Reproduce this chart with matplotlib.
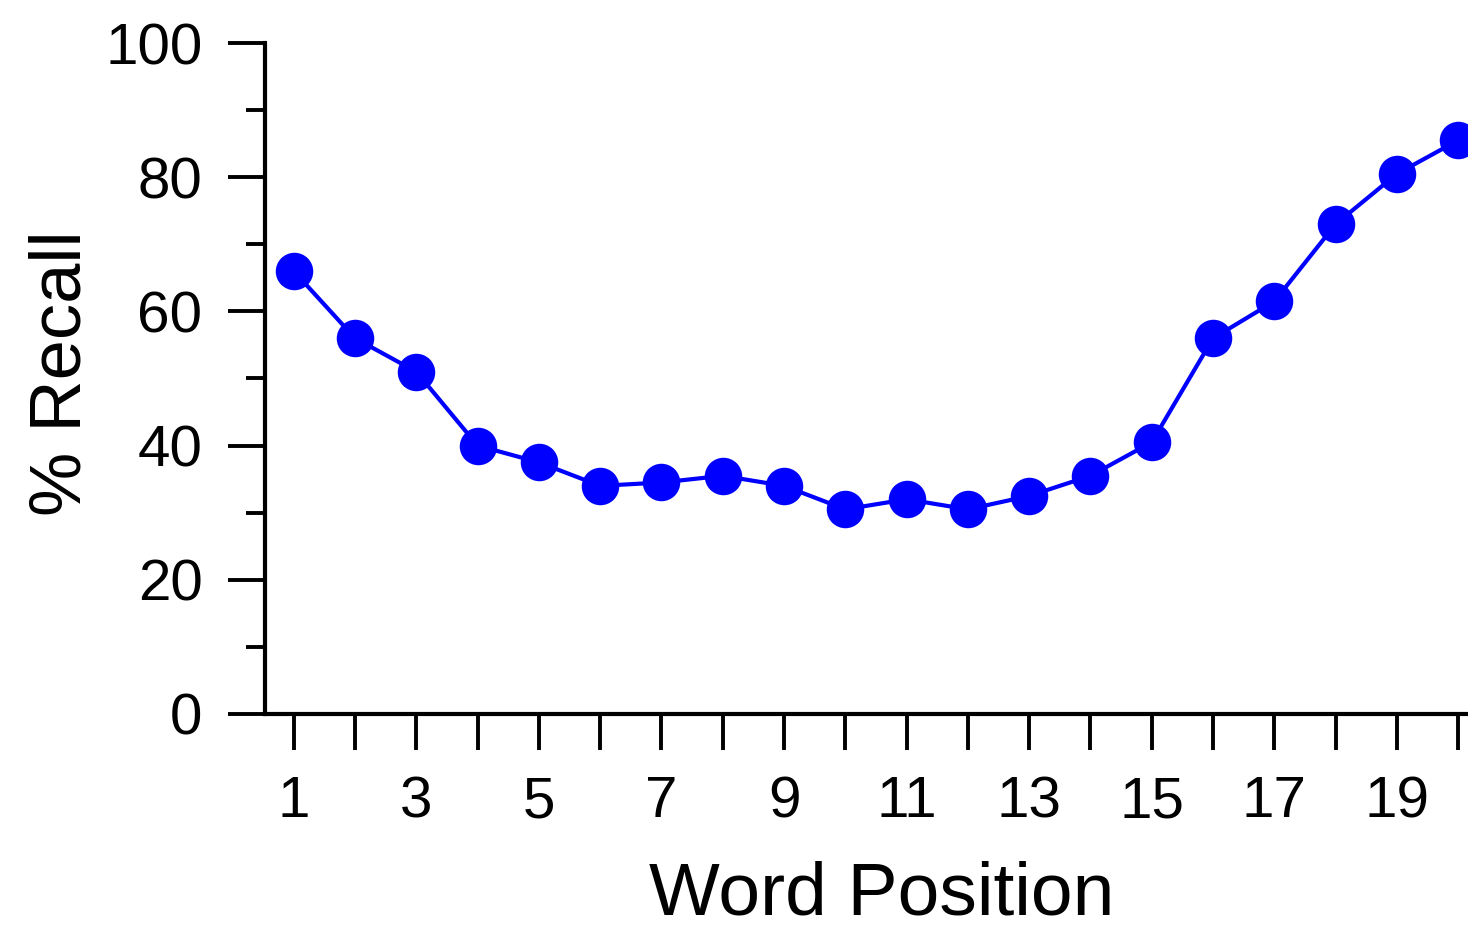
import matplotlib.pyplot as plt
from matplotlib.ticker import MultipleLocator

# Serial position data

positions = list(range(1, 21))
recall = [66, 56, 51, 40, 37.5, 34, 34.5, 35.5, 34, 30.5,
          32, 30.5, 32.5, 35.5, 40.5, 56, 61.5, 73, 80.5, 85.5]
xtick_labels = [str(p) if p % 2 == 1 else "" for p in positions]
yticks = [0, 20, 40, 60, 80, 100]

plt.rcParams['font.family'] = ['Liberation Sans', 'DejaVu Sans']

fig = plt.figure(figsize=(14.68, 9.27), dpi=100)
ax = fig.add_axes([0.1805, 0.2298, 0.8195, 0.7238])

ax.plot(positions, recall, color="#0000ff", linewidth=3,
        marker="o", markersize=27, markeredgewidth=0)

ax.set_xlim(0.53, 20.16)
ax.set_ylim(0, 100)

ax.set_xticks(positions)
ax.set_xticklabels(xtick_labels)
ax.set_yticks(yticks)
ax.yaxis.set_minor_locator(MultipleLocator(10))

for side in ["top", "right"]:
    ax.spines[side].set_visible(False)
for side in ["left", "bottom"]:
    ax.spines[side].set_linewidth(3)

ax.tick_params(axis="x", which="major", direction="out", length=26, width=2.8,
               pad=18, labelsize=42)
ax.tick_params(axis="y", which="major", direction="out", length=27, width=2.8,
               pad=18, labelsize=42)
ax.tick_params(axis="y", which="minor", direction="out", length=14, width=2.8)

ax.set_xlabel("Word Position", fontsize=54, va="center")
ax.set_ylabel("% Recall", fontsize=52, va="center")
ax.xaxis.set_label_coords(0.513, -0.27)
ax.yaxis.set_label_coords(-0.169, 0.508)

fig.savefig("out.png", dpi=100)
